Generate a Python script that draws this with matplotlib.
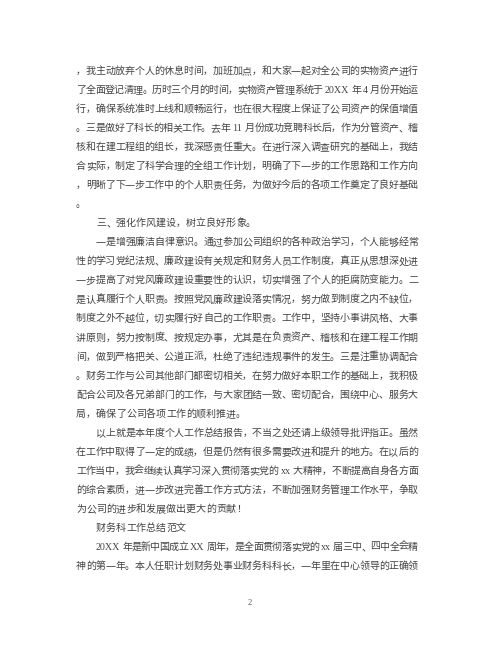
import re
import matplotlib
matplotlib.use('Agg')
import matplotlib.pyplot as plt

plt.rcParams['font.family'] = ['Noto Sans CJK SC', 'DejaVu Sans']

# page text, one entry per printed line
lines = [
    '，我主动放弃个人的休息时间，加班加点，和大家一起对全公司的实物资产进行',
    '了全面登记清理。历时三个月的时间，实物资产管理系统于 20XX 年 4 月份开始运',
    '行，确保系统准时上线和顺畅运行，也在很大程度上保证了公司资产的保值增值',
    '。三是做好了科长的相关工作。去年 11 月份成功竞聘科长后，作为分管资产、稽',
    '核和在建工程组的组长，我深感责任重大。在进行深入调查研究的基础上，我结',
    '合实际，制定了科学合理的全组工作计划，明确了下一步的工作思路和工作方向',
    '，明晰了下一步工作中的个人职责任务，为做好今后的各项工作奠定了良好基础',
    '。',
    '三、强化作风建设，树立良好形象。',
    '一是增强廉洁自律意识。通过参加公司组织的各种政治学习，个人能够经常',
    '性的学习党纪法规、廉政建设有关规定和财务人员工作制度，真正从思想深处进',
    '一步提高了对党风廉政建设重要性的认识，切实增强了个人的拒腐防变能力。二',
    '是认真履行个人职责。按照党风廉政建设落实情况，努力做到制度之内不缺位，',
    '制度之外不越位，切实履行好自己的工作职责。工作中，坚持小事讲风格、大事',
    '讲原则，努力按制度、按规定办事，尤其是在负责资产、稽核和在建工程工作期',
    '间，做到严格把关、公道正派，杜绝了违纪违规事件的发生。三是注重协调配合',
    '。财务工作与公司其他部门都密切相关，在努力做好本职工作的基础上，我积极',
    '配合公司及各兄弟部门的工作，与大家团结一致、密切配合，围绕中心、服务大',
    '局，确保了公司各项工作的顺利推进。',
    '以上就是本年度个人工作总结报告，不当之处还请上级领导批评指正。虽然',
    '在工作中取得了一定的成绩，但是仍然有很多需要改进和提升的地方。在以后的',
    '工作当中，我会继续认真学习深入贯彻落实党的 xx 大精神，不断提高自身各方面',
    '的综合素质，进一步改进完善工作方式方法，不断加强财务管理工作水平，争取',
    '为公司的进步和发展做出更大的贡献！',
    '财务科工作总结范文',
    '20XX 年是新中国成立 XX 周年，是全面贯彻落实党的 xx 届三中、四中全会精',
    '神的第一年。本人任职计划财务处事业财务科科长，一年里在中心领导的正确领',
]
indented = [8, 9, 19, 24, 25]
ragged = [7, 8, 18, 23, 24]
page_no = '2'

W, H = 500, 647
fig = plt.figure(figsize=(W / 100, H / 100), dpi=100)
fig.patch.set_facecolor('white')
renderer = fig.canvas.get_renderer()

em = 10.0                 # pixels per CJK character
fs = em * 72 / 100
color = '#444444'
left, right = 76, 418
top, step = 70, 19.05


def ascii_width(tok):
    t = fig.text(0, 0, tok, fontsize=fs, family='Liberation Serif')
    w = t.get_window_extent(renderer).width
    t.remove()
    return w


for i, line in enumerate(lines):
    toks = re.findall(r'[A-Za-z0-9!]+|\s|.', line)
    widths = []
    for tok in toks:
        if tok == ' ':
            widths.append(em * 0.3)
        elif tok.isascii():
            widths.append(ascii_width(tok))
        else:
            widths.append(em)
    x0 = left + (2 * em if i in indented else 0)
    gap = 0.0
    if i not in ragged and len(toks) > 1:
        gap = (right - x0 - sum(widths)) / (len(toks) - 1)
    yb = top + i * step + 0.38 * em
    x = x0
    for tok, w in zip(toks, widths):
        if tok != ' ':
            if tok.isascii():
                kw = {'family': 'Liberation Serif'}
            else:
                kw = {'fontweight': 'light'}
            fig.text(x / W, 1 - yb / H, tok, fontsize=fs, color=color,
                     ha='left', va='baseline', **kw)
        x += w + gap

fig.text(250 / W, 1 - 603 / H, page_no, fontsize=6, color='#555555',
         family='Liberation Serif', ha='center', va='center')

fig.savefig('out.png', dpi=100, facecolor='white')
